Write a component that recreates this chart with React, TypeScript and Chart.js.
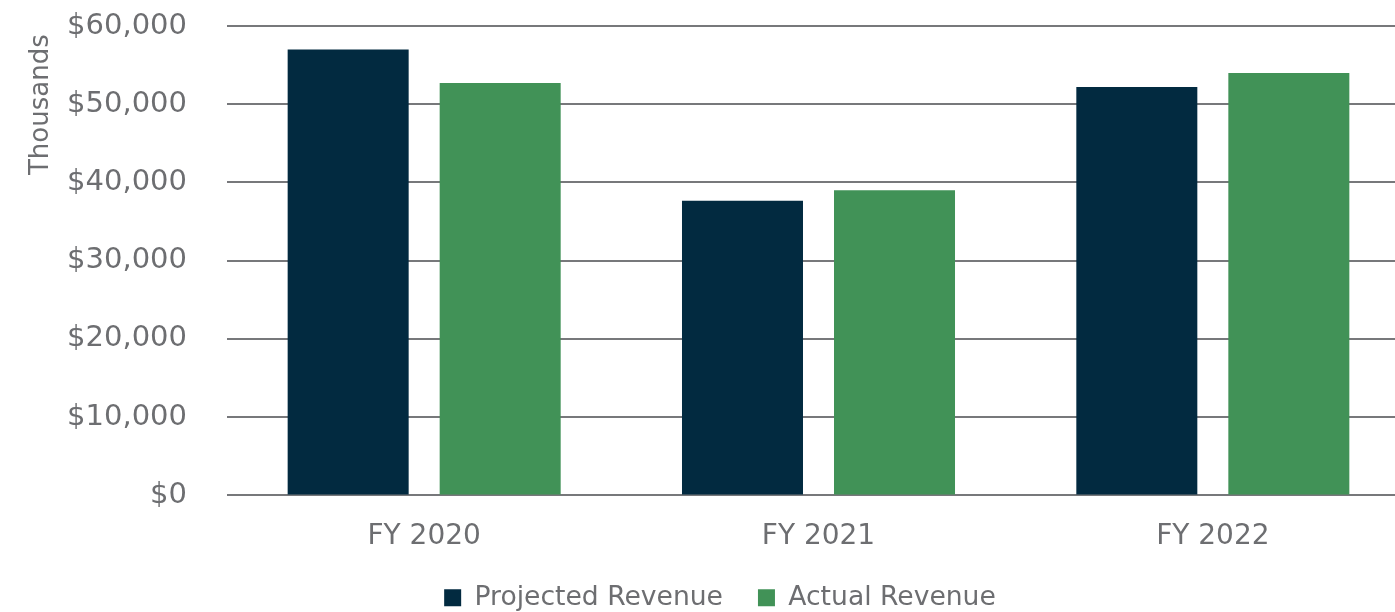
import React, { useEffect, useRef } from 'react';
import { Chart, registerables } from 'chart.js';

Chart.register(...registerables);

const categories: string[] = ['FY 2020', 'FY 2021', 'FY 2022'];
const projectedRevenue: number[] = [57000, 37650, 52200];
const actualRevenue: number[] = [52700, 39000, 54000];
const seriesNames: string[] = ['Projected Revenue', 'Actual Revenue'];
const yAxisTitle = 'Thousands';
const yMin = 0;
const yMax = 60000;
const yStep = 10000;

const FONT = "'DejaVu Sans', sans-serif";
const TEXT = '#6d6e71';

export default function App() {
  const ref = useRef<HTMLCanvasElement | null>(null);

  useEffect(() => {
    if (!ref.current) return;
    const chart = new Chart(ref.current, {
      type: 'bar',
      data: {
        labels: categories,
        datasets: [
          {
            label: seriesNames[0],
            data: projectedRevenue,
            backgroundColor: '#022a40',
            categoryPercentage: 0.771,
            barPercentage: 0.796,
          },
          {
            label: seriesNames[1],
            data: actualRevenue,
            backgroundColor: '#419257',
            categoryPercentage: 0.771,
            barPercentage: 0.796,
          },
        ],
      },
      options: {
        responsive: false,
        animation: false,
        layout: { padding: { top: 0, left: 30, right: 0, bottom: 0 } },
        plugins: {
          tooltip: { enabled: false },
          legend: {
            position: 'bottom',
            labels: {
              boxWidth: 17,
              boxHeight: 17,
              padding: 35,
              color: TEXT,
              font: { family: FONT, size: 26.6 },
            },
          },
        },
        scales: {
          x: {
            grid: { display: false },
            border: { display: false },
            ticks: {
              color: TEXT,
              font: { family: FONT, size: 28 },
              padding: 17,
            },
            afterFit: (scale: any) => {
              scale.height = 54;
            },
          },
          y: {
            min: yMin,
            max: yMax,
            border: { display: false },
            grid: { color: '#77787b', lineWidth: 2, drawTicks: false },
            ticks: {
              stepSize: yStep,
              color: TEXT,
              font: { family: FONT, size: 29 },
              padding: 40,
              callback: (v: any) => '$' + Number(v).toLocaleString('en-US'),
            },
            title: {
              display: true,
              text: yAxisTitle + ' ',
              align: 'end',
              color: TEXT,
              font: { family: FONT, size: 26 },
              padding: { top: -4, bottom: 0 },
            },
            afterFit: (scale: any) => {
              scale.width = 197;
              scale.paddingTop = 26;
              scale.paddingBottom = 0;
            },
          },
        },
      },
    });
    return () => chart.destroy();
  }, []);

  return (
    <div style={{ position: 'absolute', top: 0, left: 0, width: 1395, height: 612, overflow: 'hidden', background: '#fff' }}>
      <canvas ref={ref} width={1410} height={621} style={{ display: 'block', width: 1410, height: 621 }} />
    </div>
  );
}
